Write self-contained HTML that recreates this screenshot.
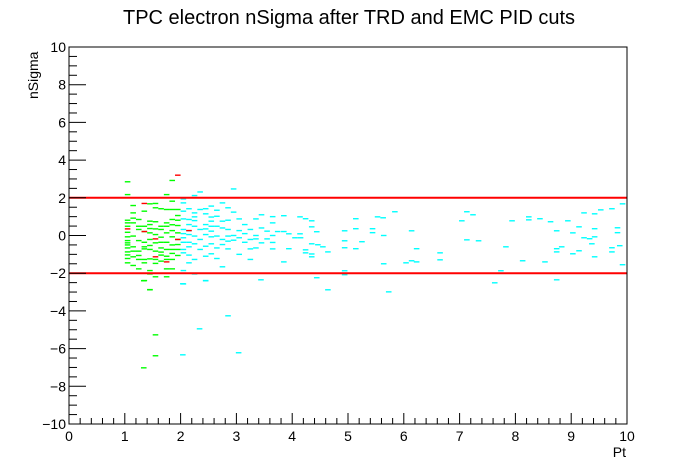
<!DOCTYPE html>
<html><head><meta charset="utf-8"><style>
body{margin:0;background:#fff;}
svg{display:block;font-family:"Liberation Sans",sans-serif;}
</style></head><body>
<svg id="c" width="696" height="472">
<rect x="0" y="0" width="696" height="472" fill="#fff"/>
<text x="349" y="24" text-anchor="middle" font-size="20">TPC electron nSigma after TRD and EMC PID cuts</text>
<text x="0" y="0" transform="translate(38,99) rotate(-90)" font-size="14">nSigma</text>
<text x="626" y="457" text-anchor="end" font-size="14">Pt</text>
<g id="marks"></g>
<g id="axes"></g>
</svg>
<script>
const xTicks=[0,1,2,3,4,5,6,7,8,9,10];
const yTicks=[-10,-8,-6,-4,-2,0,2,4,6,8,10];
const cutLines=[2,-2];
const greenX=[1.0,1.0,1.0,1.0,1.0,1.0,1.0,1.0,1.0,1.0,1.0,1.0,1.0,1.0,1.0,
1.1,1.1,1.1,1.1,1.1,1.1,1.1,1.1,1.1,
1.2,1.2,1.2,1.2,1.2,1.2,1.2,1.2,
1.3,1.3,1.3,1.3,1.3,1.3,1.3,1.3,1.3,
1.4,1.4,1.4,1.4,1.4,1.4,1.4,1.4,1.4,1.4,1.4,1.4,
1.5,1.5,1.5,1.5,1.5,1.5,1.5,1.5,1.5,1.5,
1.6,1.6,1.6,1.6,1.6,1.6,1.6,1.6,1.6,
1.7,1.7,1.7,1.7,1.7,1.7,1.7,1.7,1.7,1.7,1.7,
1.8,1.8,1.8,1.8,1.8,1.8,1.8,1.8,1.8,1.8,1.8,1.8,
1.9,1.9,1.9,1.9,1.9,1.9,1.9,1.9,1.9,
1.29,1.4,1.5,1.5,1.29];
const greenY=[2.85,2.17,0.81,0.67,0.49,0.17,-0.07,-0.27,-0.39,-0.5,-0.66,-0.87,-1.03,-1.22,-1.45,
1.59,1.2,0.92,0.67,-0.03,-0.6,-0.83,-1.13,-1.59,
0.85,0.49,0.32,-0.27,-0.83,-1.06,-1.27,-1.77,
1.29,0.49,0.21,-0.36,-0.6,-0.71,-1.27,-1.45,-2.39,
1.68,0.76,0.58,0.37,0.14,-0.21,-0.53,-0.74,-1.24,-1.86,-2.04,-2.87,
1.7,1.47,0.73,0.35,0.05,-0.39,-0.83,-1.27,-1.48,-2.19,
1.42,0.49,0.32,-0.09,-0.36,-0.66,-0.88,-1.04,-1.36,
2.17,1.38,0.67,0.49,0.14,-0.36,-0.74,-1.1,-1.27,-1.77,-2.19,
2.92,1.82,1.38,0.85,0.57,0.26,-0.07,-0.5,-0.74,-0.95,-1.27,-1.77,
1.38,1.06,0.81,0.53,0.14,-0.21,-0.48,-0.74,-1.06,
-2.4,-2.88,-5.27,-6.38,-7.02];
const redX=[1.3,1.9,1.0,1.3,1.5,1.5,1.7,1.9,2.1];
const redY=[1.7,3.2,0.35,0.21,-0.18,-1.13,-1.4,-0.21,0.26];
const cyanX=[2.0,2.0,2.0,2.0,2.0,2.0,2.0,2.0,2.0,2.0,2.0,2.0,
2.1,2.1,2.1,2.1,2.1,2.1,2.1,2.1,2.1,
2.2,2.2,2.2,2.2,2.2,2.2,2.2,2.2,2.2,
2.3,2.3,2.3,2.3,2.3,
2.4,2.4,2.4,2.4,2.4,2.4,2.4,2.4,
2.5,2.5,2.5,2.5,2.5,2.5,2.5,2.5,
2.6,2.6,2.6,2.6,2.6,2.6,
2.7,2.7,2.7,2.7,2.7,2.7,
2.8,2.8,2.8,2.8,2.8,2.8,
2.9,2.9,2.9,2.9,
3.0,3.0,3.0,3.0,
3.1,3.1,3.1,
3.2,3.2,3.2,3.2,
3.3,3.3,3.3,3.3,
3.4,3.4,3.4,3.5,3.5,3.6,
3.6,3.8,4.09,4.19,4.3,3.6,4.3,3.69,3.8,3.89,4.09,4.39,3.6,4.0,4.1,3.6,4.3,4.41,4.5,3.89,4.19,4.59,4.19,4.3,4.3,3.8,4.39,4.59,
4.89,4.89,4.89,4.89,4.89,5.09,5.09,5.09,5.2,5.39,5.39,5.48,5.58,5.59,5.59,5.68,5.79,5.99,6.09,6.09,6.18,6.18,6.6,6.6,
6.99,7.08,7.08,7.19,7.29,7.58,7.69,7.78,7.89,8.08,8.19,8.19,8.39,8.48,8.58,8.69,8.69,8.69,8.69,8.78,8.89,8.98,8.98,
9.09,9.09,9.18,9.18,9.28,9.32,9.37,9.37,9.37,9.37,9.48,9.68,9.68,9.68,9.78,9.78,9.82,9.87,9.87,
1.99,2.4,3.39,2.8,2.29,2.99,1.99];
const cyanY=[1.94,1.73,1.29,0.88,0.32,0.1,-0.12,-0.36,-0.74,-0.92,-1.86,-2.57,
1.42,0.85,0.58,0.26,0.05,-0.36,-0.6,-1.04,-1.45,
2.12,1.2,0.99,0.79,0.49,-0.03,-0.44,-1.27,-2.04,
2.31,1.38,0.32,-0.21,-0.74,
1.42,1.15,0.58,0.35,0.05,-0.57,-1.1,-2.39,
1.56,0.98,0.76,0.49,0.23,-0.07,-0.44,-0.97,
1.34,1.02,0.49,-0.03,-0.66,-1.22,
1.73,0.76,0.4,-0.21,-0.48,-1.66,
1.47,0.81,0.32,-0.03,-0.3,-0.71,
2.47,1.24,0,-0.25,
0.88,0.26,-0.12,-1.0,
0.58,0.1,-0.36,
0.32,-0.21,-1.27,-0.71,
0.88,0,-0.18,-0.66,
1.1,0.4,-0.39,0.23,-0.18,-0.71,
1.0,1.05,0.99,0.89,0.78,0.67,0.46,0.21,0.21,0.09,0.09,0.2,0,-0.12,-0.12,-0.37,-0.44,-0.49,-0.6,-0.7,-0.76,-0.87,-0.92,-0.98,-1.13,-1.4,-2.24,-2.88,
0.25,-0.28,-0.65,-1.87,-2.08,0.89,0.36,-0.7,-0.33,0.36,0.15,0.99,0.94,0,-1.5,-2.99,1.26,-1.45,0.25,-1.34,-0.7,-1.4,-0.92,-1.29,
0.78,1.26,-0.23,1.1,-0.28,-2.51,-1.87,-0.6,0.78,-1.34,0.99,0.83,0.89,-1.4,0.73,0.25,-0.7,-0.87,-2.35,-0.6,0.78,0.14,-0.97,
0.46,-0.81,1.2,-0.12,-0.17,-0.44,1.15,0.36,-0.07,-1.13,1.36,1.42,-0.65,-0.87,0.41,0.15,-0.54,1.68,-1.55,
-2.56,-2.4,-2.35,-4.26,-4.95,-6.22,-6.33];

const L=69,R=627,T=47,B=424;
const sx=v=>L+(v-0)/10*(R-L);
const sy=v=>B-(v+10)/20*(B-T);
const NS="http://www.w3.org/2000/svg";
const marks=document.getElementById('marks');
const axes=document.getElementById('axes');
function mk(tag,attrs,parent){const e=document.createElementNS(NS,tag);for(const k in attrs)e.setAttribute(k,attrs[k]);parent.appendChild(e);return e;}
function drawSeries(xs,ys,color,name){
  for(let i=0;i<xs.length;i++){
    const r=mk('rect',{x:sx(xs[i]).toFixed(2),y:(sy(ys[i])-0.7).toFixed(2),width:(sx(0.1)-sx(0)).toFixed(2),height:1.4,fill:color},marks);
    
    
  }
}
drawSeries(greenX,greenY,'#00ff00','green-bin');
drawSeries(cyanX,cyanY,'#00ffff','cyan-bin');
drawSeries(redX,redY,'#ff0000','red-bin');
cutLines.forEach(v=>{
  const l=mk('line',{x1:L,x2:R,y1:sy(v),y2:sy(v),stroke:'#ff0000','stroke-width':2},marks);
  
  
});
const fr=mk('rect',{x:L,y:T,width:R-L,height:B-T,fill:'none',stroke:'#000','stroke-width':1},axes);


for(let i=0;i<xTicks.length;i++){
  const v=xTicks[i];
  const t=mk('line',{x1:sx(v),x2:sx(v),y1:B,y2:B-11,stroke:'#000'},axes);
  
  
  const tx=mk('text',{x:sx(v),y:B+17,'text-anchor':'middle','font-size':14},axes);
  tx.textContent=v;
  
  
  if(i<xTicks.length-1){
    for(let k=1;k<5;k++){
      const m=mk('line',{x1:sx(v+k*0.2),x2:sx(v+k*0.2),y1:B,y2:B-6,stroke:'#000'},axes);
      
      
    }
  }
}
for(let i=0;i<yTicks.length;i++){
  const v=yTicks[i];
  const t=mk('line',{x1:L,x2:L+17,y1:sy(v),y2:sy(v),stroke:'#000'},axes);
  
  
  const tx=mk('text',{x:L-3,y:sy(v)+5,'text-anchor':'end','font-size':14},axes);
  tx.textContent=v<0?'\u2212'+Math.abs(v):v;
  
  
  if(i<yTicks.length-1){
    for(let k=1;k<4;k++){
      const m=mk('line',{x1:L,x2:L+8,y1:sy(v+k*0.5),y2:sy(v+k*0.5),stroke:'#000'},axes);
      
      
    }
  }
}
</script>
</body></html>
